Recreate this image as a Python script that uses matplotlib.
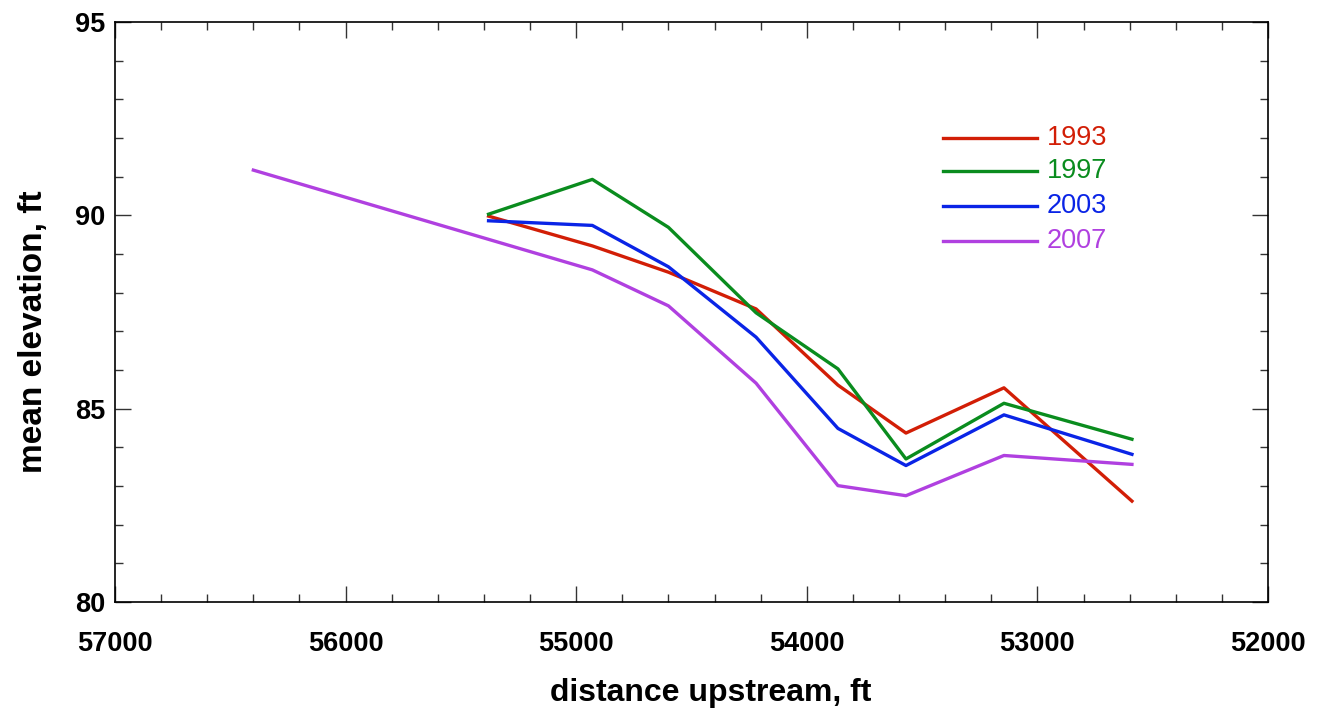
import matplotlib.pyplot as plt
from matplotlib.ticker import MultipleLocator

# River profile data
dist_1993 = [55380, 54930, 54600, 54220, 53865, 53570, 53145, 52590]
elev_1993 = [89.98, 89.21, 88.53, 87.58, 85.61, 84.37, 85.54, 82.61]

dist_1997 = [55380, 54930, 54600, 54220, 53865, 53570, 53145, 52590]
elev_1997 = [90.03, 90.93, 89.69, 87.48, 86.03, 83.70, 85.14, 84.21]

dist_2003 = [55380, 54930, 54600, 54220, 53865, 53570, 53145, 52590]
elev_2003 = [89.86, 89.74, 88.67, 86.85, 84.49, 83.53, 84.84, 83.82]

dist_2007 = [56400, 54930, 54600, 54220, 53865, 53570, 53145, 52590]
elev_2007 = [91.17, 88.59, 87.66, 85.66, 83.01, 82.75, 83.79, 83.56]

years = ['1993', '1997', '2003', '2007']
colors = ['#d21e06', '#0a8c1e', '#0a24e6', '#b040e0']

font = ['Liberation Sans', 'DejaVu Sans']

fig = plt.figure(figsize=(13.17, 7.15), dpi=100)
ax = fig.add_axes([0.0873, 0.158, 0.8755, 0.8112])

series = [(dist_1993, elev_1993), (dist_1997, elev_1997),
          (dist_2003, elev_2003), (dist_2007, elev_2007)]
for (x, y), c in zip(series, colors):
    ax.plot(x, y, color=c, lw=2.4)

ax.set_xlim(57000, 52000)
ax.set_ylim(80, 95)
ax.xaxis.set_major_locator(MultipleLocator(1000))
ax.xaxis.set_minor_locator(MultipleLocator(200))
ax.yaxis.set_major_locator(MultipleLocator(5))
ax.yaxis.set_minor_locator(MultipleLocator(1))
ax.tick_params(which='both', direction='in', top=True, right=True, width=1, color='#333333')
ax.tick_params(which='major', length=11.5)
ax.tick_params(which='minor', length=5.8)
ax.tick_params(axis='x', which='major', pad=21)
ax.tick_params(axis='y', which='major', pad=7)
for s in ax.spines.values():
    s.set_linewidth(1.2)

for lab in ax.get_xticklabels() + ax.get_yticklabels():
    lab.set_family(font)
    lab.set_fontweight('bold')
    lab.set_fontsize(19.5)

ax.set_xlabel('distance upstream, ft', family=font, fontweight='bold',
              fontsize=23, labelpad=15)
ax.set_ylabel('mean elevation, ft', family=font, fontweight='bold',
              fontsize=24, labelpad=19)
# the labels sit a bit off-centre in the original
ax.xaxis.label.set_x(0.517)
ax.yaxis.label.set_y(0.466)

# legend drawn by hand, coloured text
leg_y = [92.01, 91.15, 90.24, 89.34]
for yr, c, ly in zip(years, colors, leg_y):
    ax.plot([53409, 53002], [ly, ly], color=c, lw=2.4)
    ax.text(52958, ly, yr, color=c, fontsize=19.5, va='center', ha='left',
            family=font)

fig.savefig('out.png', dpi=100)
